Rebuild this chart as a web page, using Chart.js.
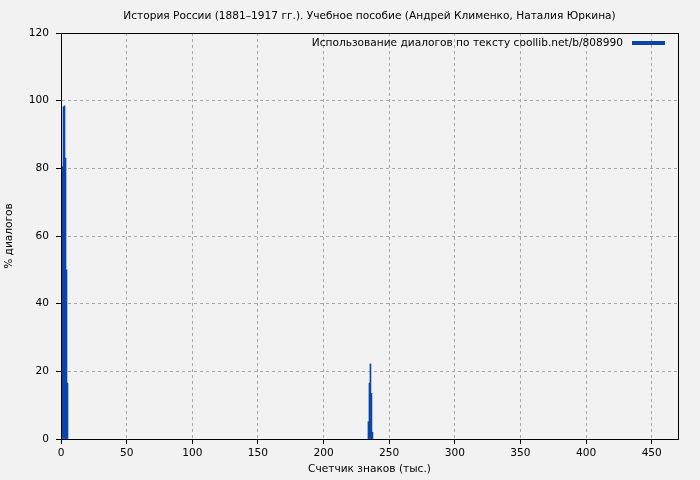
<!DOCTYPE html>
<html>
<head>
<meta charset="utf-8">
<script src="https://cdn.jsdelivr.net/npm/chart.js@4"></script>
<style>
  html, body { margin: 0; padding: 0; background: #f2f2f2; }
  #wrap { width: 700px; height: 480px; }
</style>
</head>
<body>
<div id="wrap"><canvas id="chart" width="700" height="480"></canvas></div>
<script>
// данные: позиция (тыс. знаков) и % диалогов
const positions = [0.38, 1.14, 1.9, 2.67, 3.43, 4.19, 4.95, 234.2, 234.96, 235.72, 236.48, 237.24];
const dialogPct = [45.5, 80.5, 98.2, 98.5, 83, 50, 16.5, 5.1, 16.5, 22.2, 13.5, 2];
const xTicks = [0, 50, 100, 150, 200, 250, 300, 350, 400, 450];
const yTicks = [0, 20, 40, 60, 80, 100, 120];

const titleText = "История России (1881–1917 гг.). Учебное пособие (Андрей Клименко, Наталия Юркина)";
const legendText = "Использование диалогов по тексту coollib.net/b/808990";
const xTitle = "Счетчик знаков (тыс.)";
const yTitle = "% диалогов";

const FONT = "DejaVu Sans";
const SIZE = 10.6;
const barColor = "#0b45a8";

const points = positions.map((x, i) => ({ x: x, y: dialogPct[i] }));

// заголовок, легенда и рамка рисуются поверх
const framePlugin = {
  id: "frame",
  afterDraw(chart) {
    const ctx = chart.ctx;
    const a = chart.chartArea;
    ctx.save();
    ctx.strokeStyle = "#000";
    ctx.lineWidth = 1;
    ctx.strokeRect(a.left + 0.5, a.top + 0.5, a.right - a.left, a.bottom - a.top);
    ctx.fillStyle = "#000";
    ctx.font = SIZE + "px '" + FONT + "'";
    ctx.textBaseline = "middle";
    ctx.textAlign = "center";
    ctx.fillText(titleText, (a.left + a.right) / 2, 16);
    // легенда
    const boxRight = a.right - 13;
    const boxW = 33;
    ctx.fillStyle = barColor;
    ctx.fillRect(boxRight - boxW, 41, boxW, 4);
    ctx.fillStyle = "#000";
    ctx.textAlign = "right";
    ctx.fillText(legendText, boxRight - boxW - 9, 43);
    ctx.restore();
  }
};

const gridOpts = {
  color: "#a8a8a8",
  tickColor: "#000",
  tickLength: 5,
  drawTicks: true,
  offset: false
};

const ctx = document.getElementById("chart").getContext("2d");
const chart = new Chart(ctx, {
  type: "bar",
  data: {
    datasets: [{
      label: legendText,
      data: points,
      backgroundColor: barColor,
      borderColor: barColor,
      borderWidth: 0,
      barPercentage: 1,
      categoryPercentage: 1
    }]
  },
  plugins: [framePlugin],
  options: {
    responsive: false,
    animation: false,
    layout: { padding: { top: 33, right: 22, bottom: 0, left: 0 } },
    plugins: {
      title: { display: false },
      tooltip: { enabled: false },
      legend: { display: false }
    },
    scales: {
      x: {
        type: "linear",
        offset: false,
        min: 0,
        max: 470,
        afterBuildTicks: s => { s.ticks = xTicks.map(v => ({ value: v })); },
        afterFit: s => { s.height = 41; },
        grid: gridOpts,
        border: { display: true, color: "#000", width: 1, dash: [3, 3] },
        ticks: { color: "#000", padding: 3, font: { family: FONT, size: SIZE } },
        title: {
          display: true,
          text: xTitle,
          color: "#000",
          font: { family: FONT, size: SIZE },
          padding: { top: 0, bottom: 4 }
        }
      },
      y: {
        min: 0,
        max: 120,
        afterBuildTicks: s => { s.ticks = yTicks.map(v => ({ value: v })); },
        afterFit: s => { s.width = 61; },
        grid: gridOpts,
        border: { display: true, color: "#000", width: 1, dash: [3, 3] },
        ticks: { color: "#000", padding: 7, font: { family: FONT, size: SIZE } },
        title: {
          display: true,
          text: yTitle,
          color: "#000",
          font: { family: FONT, size: SIZE },
          padding: { top: 3, bottom: 0 }
        }
      }
    }
  }
});
</script>
</body>
</html>
